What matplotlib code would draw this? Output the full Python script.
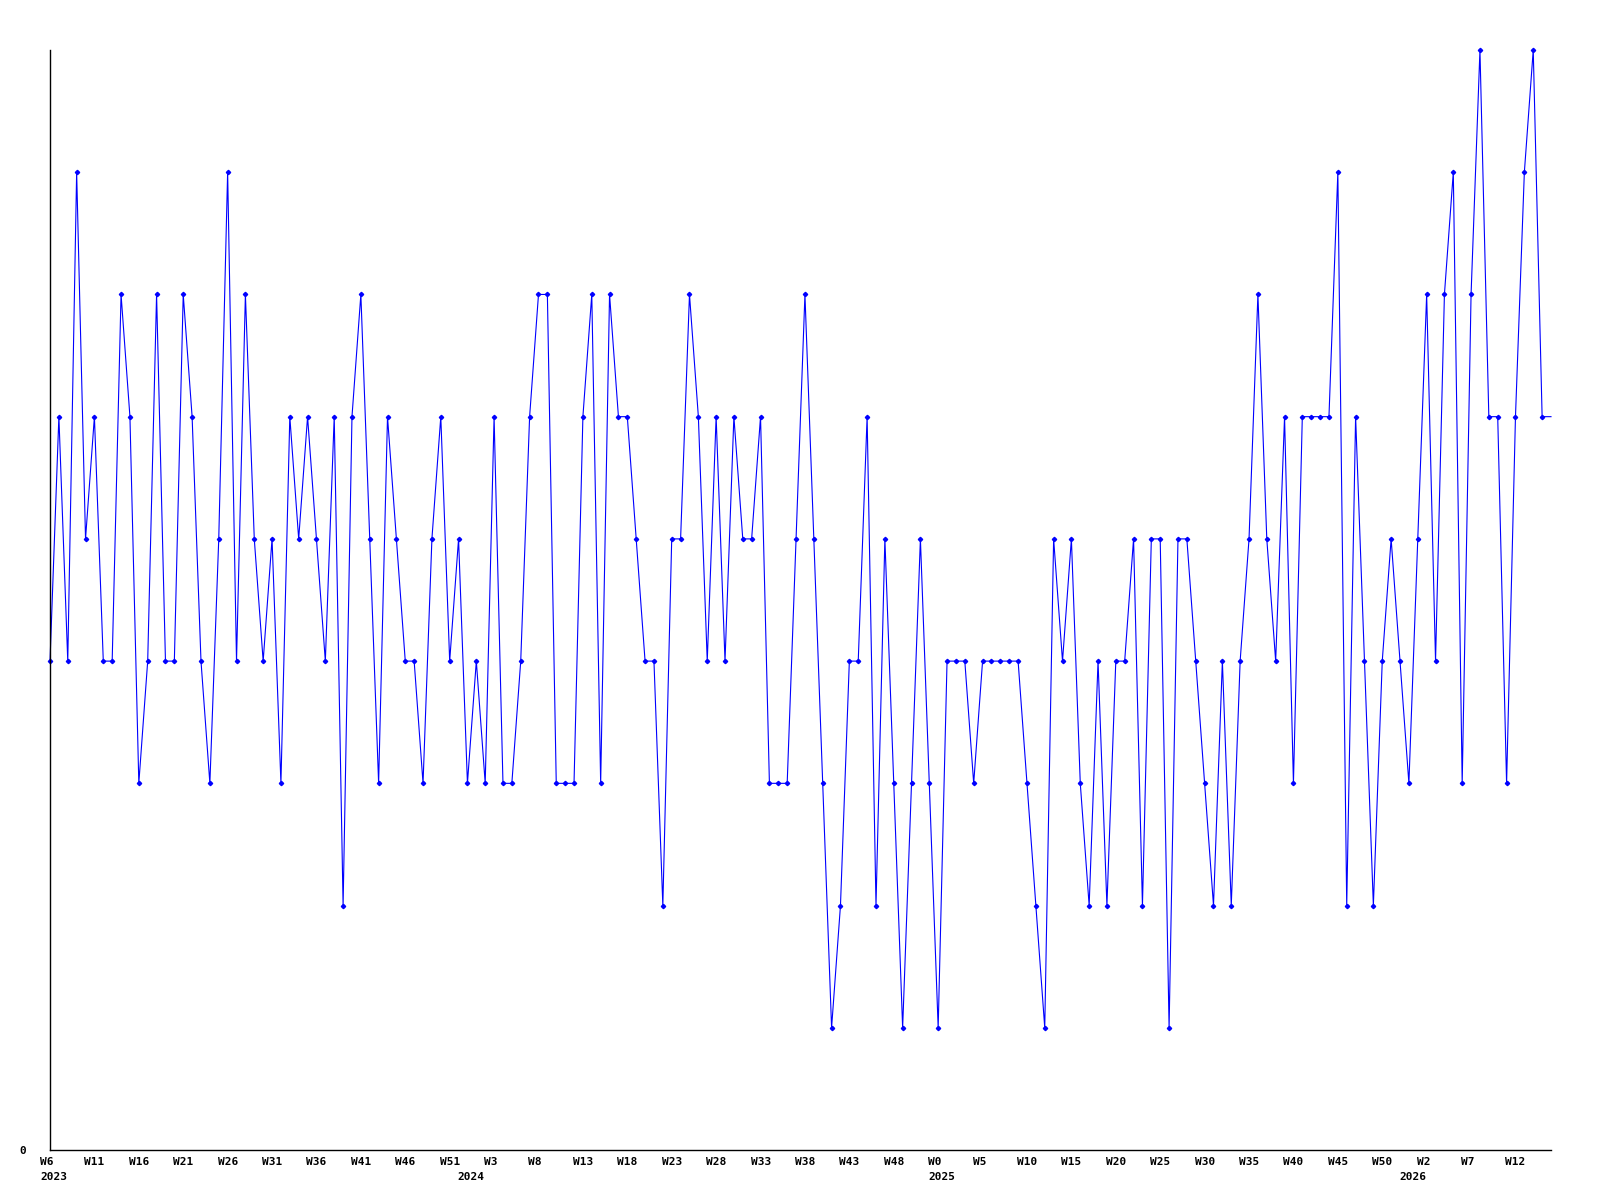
import matplotlib.pyplot as plt
from matplotlib.transforms import ScaledTranslation

# weekly counts, 2023 W6 .. 2026 W15 (last week still open, drawn without marker)
values = [
    4, 6, 4, 8, 5, 6, 4, 4, 7, 6, 3, 4, 7, 4, 4, 7, 6, 4, 3, 5,
    8, 4, 7, 5, 4, 5, 3, 6, 5, 6, 5, 4, 6, 2, 6, 7, 5, 3, 6, 5,
    4, 4, 3, 5, 6, 4, 5, 3, 4, 3, 6, 3, 3, 4, 6, 7, 7, 3, 3, 3,
    6, 7, 3, 7, 6, 6, 5, 4, 4, 2, 5, 5, 7, 6, 4, 6, 4, 6, 5, 5,
    6, 3, 3, 3, 5, 7, 5, 3, 1, 2, 4, 4, 6, 2, 5, 3, 1, 3, 5, 3,
    1, 4, 4, 4, 3, 4, 4, 4, 4, 4, 3, 2, 1, 5, 4, 5, 3, 2, 4, 2,
    4, 4, 5, 2, 5, 5, 1, 5, 5, 4, 3, 2, 4, 2, 4, 5, 7, 5, 4, 6,
    3, 6, 6, 6, 6, 8, 2, 6, 4, 2, 4, 5, 4, 3, 5, 7, 4, 7, 8, 3,
    7, 9, 6, 6, 3, 6, 8, 9, 6, 6,
]

tick_labels = [
    "W6", "W11", "W16", "W21", "W26", "W31", "W36", "W41", "W46", "W51",
    "W3", "W8", "W13", "W18", "W23", "W28", "W33", "W38", "W43", "W48",
    "W0", "W5", "W10", "W15", "W20", "W25", "W30", "W35", "W40", "W45", "W50",
    "W2", "W7", "W12",
]
years = ["2023", "2024", "2025", "2026"]
year_start = [0, 47, 100, 153]  # index of first week of each year

font = dict(family="DejaVu Sans Mono", weight="bold", size=8)

fig = plt.figure(figsize=(16, 12), dpi=100)
ax = fig.add_axes([50 / 1600, 50 / 1200, 1501 / 1600, 1100 / 1200])

x = list(range(len(values)))
ax.plot(x, values, color="#0000ff", lw=0.8, marker="D", markersize=2.2,
        markevery=list(range(len(values) - 1)), clip_on=False)

ax.set_xlim(0, len(values) - 1)
ax.set_ylim(0, 9)

for s in ["top", "right"]:
    ax.spines[s].set_visible(False)
for s in ["left", "bottom"]:
    ax.spines[s].set_linewidth(1.0)

ax.set_yticks([0])
ax.set_yticklabels(["0"], fontdict=font)
ax.tick_params(axis="y", length=0, pad=17)

ax.set_xticks(x[::5][:len(tick_labels)])
ax.set_xticklabels(tick_labels, fontdict=font, ha="left")
ax.tick_params(axis="x", length=0, pad=5)
shift = ScaledTranslation(-10 / 100, 0, fig.dpi_scale_trans)
for lab in ax.get_xticklabels():
    lab.set_transform(lab.get_transform() + shift)

for yr, i in zip(years, year_start):
    ax.annotate(yr, xy=(i, 0), xycoords=("data", "axes fraction"),
                xytext=(-10, -22), textcoords="offset pixels",
                ha="left", va="top", **font)

fig.savefig("out.png", dpi=100)
